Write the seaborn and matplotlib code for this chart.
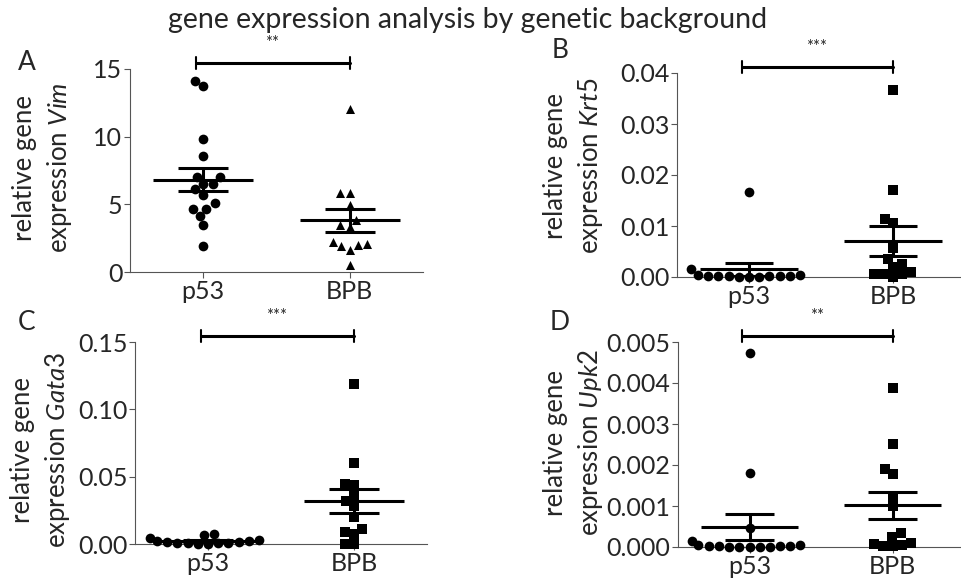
import numpy as np
import pandas as pd
import matplotlib
matplotlib.use('Agg')
import matplotlib.pyplot as plt
from matplotlib.ticker import FormatStrFormatter
import seaborn as sns

# values
groups = ['p53', 'BPB']

vim_p53 = [14.13, 13.71, 9.81, 8.57, 7.04, 7.04, 6.50, 6.10, 6.50, 5.68, 5.07, 4.69, 4.69, 4.13, 3.46, 1.90]
vim_bpb = [12.03, 5.81, 5.81, 4.94, 3.83, 3.46, 3.34, 2.05, 1.90, 1.66, 1.98, 2.22, 0.54]

krt5_p53 = [0.0166, 0.0016, 0.0004, 0.0003, 0.0002, 0.0002, 0.0001, 0.0001, 0.0001, 0.0001, 0.0, 0.0, 0.0]
krt5_bpb = [0.0366, 0.0170, 0.0114, 0.0106, 0.0057, 0.0035, 0.0026, 0.0020, 0.0009, 0.0005, 0.0, 0.0005, 0.0005]

gata3_p53 = [0.0069, 0.0074, 0.0044, 0.0030, 0.0025, 0.0020, 0.0015, 0.0012, 0.0010, 0.0008, 0.0006, 0.0005, 0.0003, 0.0002]
gata3_bpb = [0.119, 0.060, 0.0447, 0.0439, 0.036, 0.0323, 0.0284, 0.0197, 0.0111, 0.0076, 0.0089, 0.0002, 0.0002]

upk2_p53 = [0.00473, 0.00180, 0.00046, 0.00015, 0.00005, 0.00004, 0.00003, 0.00003, 0.00002, 0.00002,
            0.00001, 0.00001, 0.00001, 0.0, 0.0]
upk2_bpb = [0.00389, 0.00251, 0.00191, 0.00179, 0.00124, 0.00101, 0.00034, 0.00024, 0.00010, 0.00006,
            0.00002, 0.00003, 0.00008]

vim_ticks = [0, 5, 10, 15]
krt5_ticks = [0.0, 0.01, 0.02, 0.03, 0.04]
gata3_ticks = [0.0, 0.05, 0.10, 0.15]
upk2_ticks = [0.0, 0.001, 0.002, 0.003, 0.004, 0.005]

sns.set_style('ticks')
plt.rcParams['font.family'] = ['Lato', 'DejaVu Sans']
plt.rcParams['mathtext.fontset'] = 'custom'
plt.rcParams['mathtext.it'] = 'Lato:italic'
plt.rcParams['mathtext.rm'] = 'Lato'

fig = plt.figure(figsize=(9.61, 5.81), dpi=100)
W, H = 961, 581

def axes_px(left, top, right, bottom):
    return fig.add_axes([left / W, 1 - bottom / H, (right - left) / W, (bottom - top) / H])

panels = [
    # letter, gene, p53, BPB, markers, ticks, format, stars, box px, letter px, ylabel centre px
    ('A', 'Vim', vim_p53, vim_bpb, ('o', '^'), vim_ticks, '%d', '**',
     (130, 69, 423, 272), (27, 62), (43, 168)),
    ('B', 'Krt5', krt5_p53, krt5_bpb, ('o', 's'), krt5_ticks, '%.2f', '***',
     (677, 73, 965, 277), (560, 50), (574, 166)),
    ('C', 'Gata3', gata3_p53, gata3_bpb, ('o', 's'), gata3_ticks, '%.2f', '***',
     (135, 342, 427, 544), (27, 323), (41, 450)),
    ('D', 'Upk2', upk2_p53, upk2_bpb, ('o', 's'), upk2_ticks, '%.3f', '**',
     (678, 342, 964, 547), (560, 322), (574, 443)),
]

for letter, gene, p53, bpb, markers, ticks, fmt, stars, box, lpos, ypos in panels:
    ax = axes_px(*box)
    for grp, vals, m in zip(groups, [p53, bpb], markers):
        df = pd.DataFrame({'group': grp, 'value': vals})
        sns.swarmplot(data=df, x='group', y='value', order=groups, marker=m,
                      color='black', size=7 if m == 'o' else 6.5, linewidth=0,
                      clip_on=False, ax=ax, zorder=3)
        # mean and SEM
        v = np.array(vals)
        mean = v.mean()
        sem = v.std(ddof=1) / np.sqrt(len(v))
        xi = groups.index(grp)
        ax.hlines(mean, xi - 0.34, xi + 0.34, color='black', lw=2.2, zorder=4)
        ax.hlines([mean - sem, mean + sem], xi - 0.17, xi + 0.17, color='black', lw=2.2, zorder=4)
        ax.vlines(xi, mean - sem, mean + sem, color='black', lw=2.2, zorder=4)

    ax.set_xlim(-0.5, 1.5)
    ax.set_ylim(ticks[0], ticks[-1])
    ax.set_yticks(ticks)
    ax.yaxis.set_major_formatter(FormatStrFormatter(fmt))
    ax.set_xlabel('')
    ax.set_ylabel('relative gene\nexpression $\\mathit{' + gene + '}$', fontsize=18.5,
                  linespacing=1.35, va='center', ha='center')
    ax.yaxis.set_label_coords((ypos[0] - box[0]) / (box[2] - box[0]),
                              (box[3] - ypos[1]) / (box[3] - box[1]))
    ax.tick_params(length=4, width=0.8, color='#555555', pad=1.5)
    ax.tick_params(axis='y', labelsize=18)
    ax.tick_params(axis='x', labelsize=18)
    for s in ['left', 'bottom']:
        ax.spines[s].set_color('#555555')
        ax.spines[s].set_linewidth(0.8)
    sns.despine(ax=ax)

    # significance bar
    ax.plot([-0.05, 1.0], [1.03, 1.03], color='black', lw=2.2,
            transform=ax.get_xaxis_transform(), clip_on=False)
    for xe in [-0.05, 1.0]:
        ax.plot([xe, xe], [1.0, 1.06], color='black', lw=1.5,
                transform=ax.get_xaxis_transform(), clip_on=False)
    ax.text(0.47, 1.09, stars, fontsize=12, ha='center', va='bottom',
            transform=ax.get_xaxis_transform())

    fig.text(lpos[0] / W, 1 - lpos[1] / H, letter, fontsize=19, ha='center', va='center')

fig.text(468 / W, 1 - 20 / H, 'gene expression analysis by genetic background',
         fontsize=20.5, ha='center', va='center')

fig.savefig('out.png', dpi=100)
